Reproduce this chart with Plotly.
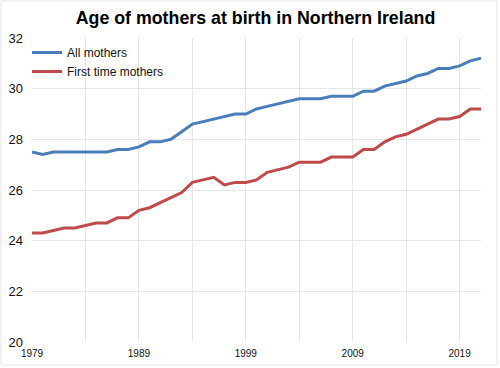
import plotly.graph_objects as go

years = list(range(1979, 2022))
all_mothers = [27.5, 27.4, 27.5, 27.5, 27.5, 27.5, 27.5, 27.5, 27.6, 27.6,
               27.7, 27.9, 27.9, 28.0, 28.3, 28.6, 28.7, 28.8, 28.9, 29.0,
               29.0, 29.2, 29.3, 29.4, 29.5, 29.6, 29.6, 29.6, 29.7, 29.7,
               29.7, 29.9, 29.9, 30.1, 30.2, 30.3, 30.5, 30.6, 30.8, 30.8,
               30.9, 31.1, 31.2]
first_time = [24.3, 24.3, 24.4, 24.5, 24.5, 24.6, 24.7, 24.7, 24.9, 24.9,
              25.2, 25.3, 25.5, 25.7, 25.9, 26.3, 26.4, 26.5, 26.2, 26.3,
              26.3, 26.4, 26.7, 26.8, 26.9, 27.1, 27.1, 27.1, 27.3, 27.3,
              27.3, 27.6, 27.6, 27.9, 28.1, 28.2, 28.4, 28.6, 28.8, 28.8,
              28.9, 29.2, 29.2]
x_tick_vals = [1979, 1984, 1989, 1994, 1999, 2004, 2009, 2014, 2019]
x_tick_text = ["1979", "", "1989", "", "1999", "", "2009", "", "2019"]
y_tick_vals = [20, 22, 24, 26, 28, 30, 32]

W, H = 500, 368
L, R, T, B = 32, 19, 38, 26

fig = go.Figure()
fig.add_trace(go.Scatter(x=years, y=all_mothers, mode="lines", name="All mothers",
                         line=dict(color="#4A7EBB", width=3)))
fig.add_trace(go.Scatter(x=years, y=first_time, mode="lines", name="First time mothers",
                         line=dict(color="#BE4B48", width=3)))

pw = W - L - R
ph = H - T - B
fig.add_shape(type="rect", xref="paper", yref="paper",
              x0=(1 - L) / pw, x1=(497 - L) / pw,
              y0=1 - (365 - T) / ph, y1=1 - (1 - T) / ph,
              line=dict(color="#e4e4e4", width=1), layer="below")

fig.update_layout(
    width=W, height=H,
    margin=dict(l=L, r=R, t=T, b=B, autoexpand=False),
    paper_bgcolor="white", plot_bgcolor="white",
    font=dict(family="Liberation Sans, Arial, sans-serif", color="#111111"),
    title=dict(text="<b>Age of mothers at birth in Northern Ireland</b>",
               x=255.5 / W, xanchor="center", y=1 - 18 / H, yanchor="middle",
               font=dict(size=17.8, color="#000000")),
    showlegend=True,
    legend=dict(x=(27 - L) / pw, y=1 - (38 - T) / ph, xanchor="left", yanchor="top",
                bgcolor="rgba(0,0,0,0)", font=dict(size=12, color="#111111"),
                tracegroupgap=0, itemwidth=30),
    xaxis=dict(range=[1979, 2021], tickvals=x_tick_vals, ticktext=x_tick_text,
               showgrid=True, gridcolor="#e6e6e6", gridwidth=1, automargin=False,
               zeroline=False, showline=False, ticks="", ticklabelstandoff=4,
               tickfont=dict(size=10, color="#111111")),
    yaxis=dict(range=[20, 32], tickvals=y_tick_vals, automargin=False,
               showgrid=True, gridcolor="#e6e6e6", gridwidth=1,
               zeroline=False, showline=False, ticks="", ticklabelstandoff=8,
               tickfont=dict(size=13, color="#111111")),
)

fig.write_html("out.html", config={"displayModeBar": False},
               post_script="document.body.style.margin='0';document.body.style.padding='0';")
